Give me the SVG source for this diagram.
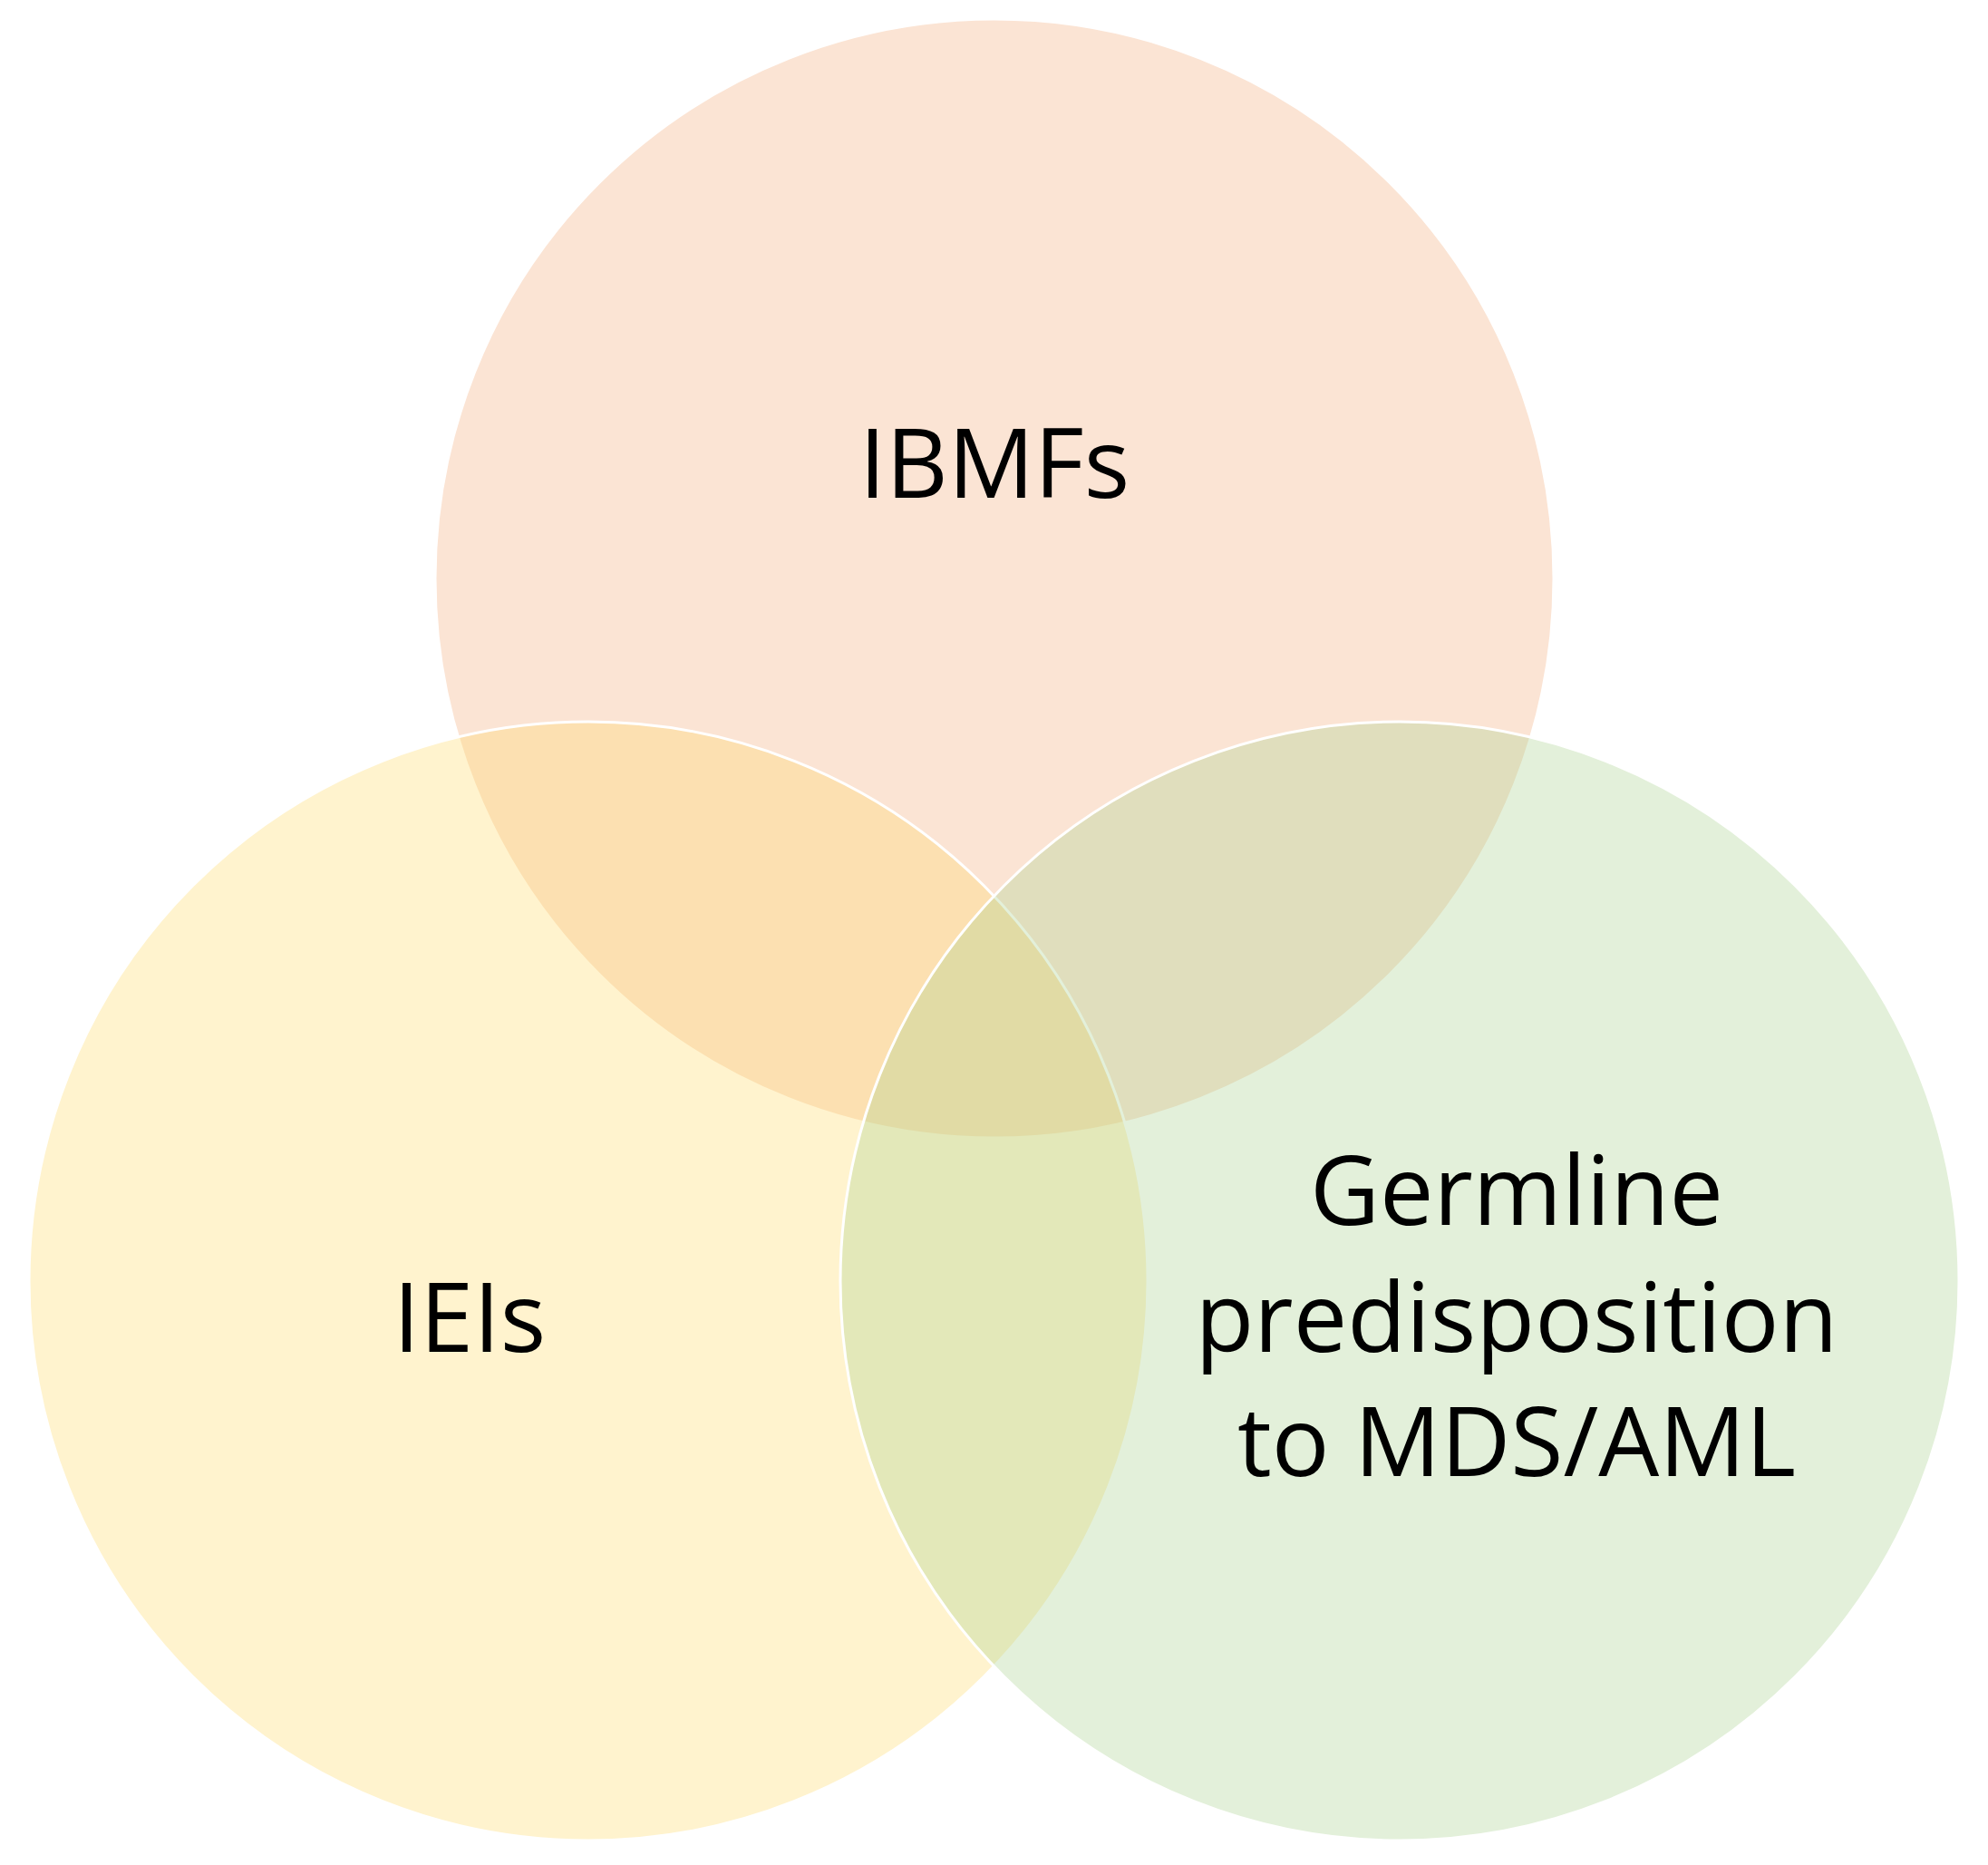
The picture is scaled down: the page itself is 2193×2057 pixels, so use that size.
<svg xmlns="http://www.w3.org/2000/svg" width="2193" height="2057" viewBox="0 0 2193 2057">
<style>
.c{stroke:#fff;stroke-width:3}
.t{font-family:"Open Sans","Noto Sans",sans-serif;font-size:106px;fill:#000;text-anchor:middle}
</style>
<rect width="2193" height="2057" fill="#fff"/>
<g id="ibmfs"><circle class="c" cx="1097" cy="638" r="617" fill="#F4B183" fill-opacity="0.35"/></g>
<g id="ieis"><circle class="c" cx="649" cy="1413" r="617" fill="#FFD966" fill-opacity="0.32"/></g>
<g id="germline"><circle class="c" cx="1544" cy="1413" r="617" fill="#A9D18E" fill-opacity="0.33"/></g>
<g id="labels">
<text class="t" x="1097" y="549">IBMFs</text>
<text class="t" x="518" y="1491">IEIs</text>
<text class="t" x="1673" y="1351">Germline</text>
<text class="t" x="1673" y="1491">predisposition</text>
<text class="t" x="1673" y="1628">to MDS/AML</text>
</g>
<g id="connectors"/>
</svg>
